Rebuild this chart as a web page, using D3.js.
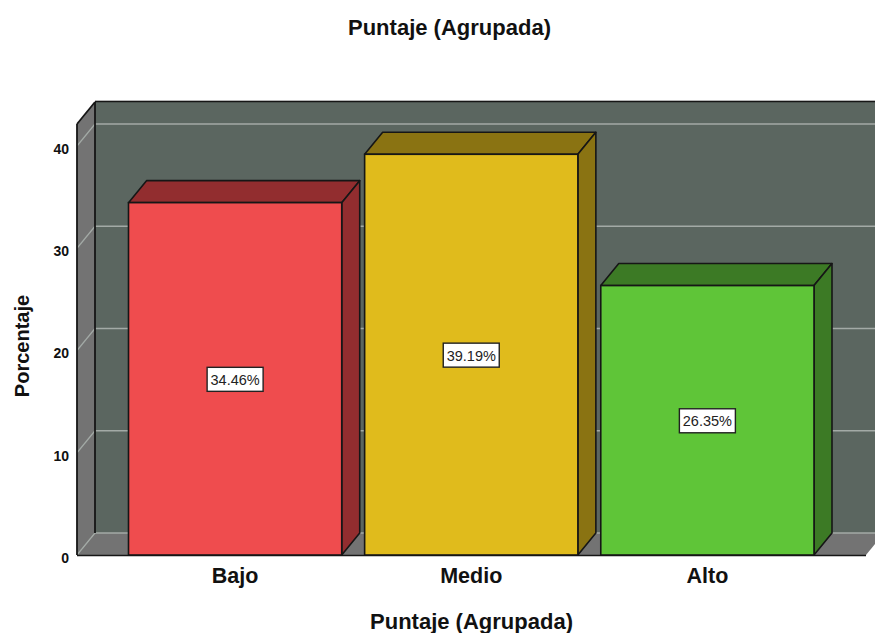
<!DOCTYPE html>
<html>
<head>
<meta charset="utf-8">
<script src="https://cdn.jsdelivr.net/npm/d3@7"></script>
<style>
html, body { margin: 0; padding: 0; background: #fff; overflow: hidden; }
text { font-family: "Liberation Sans", Arial, sans-serif; }
</style>
</head>
<body>
<div id="chart"></div>
<script>
var categories = ["Bajo", "Medio", "Alto"];
var values = [34.46, 39.19, 26.35];
var valueLabels = ["34.46%", "39.19%", "26.35%"];
var tickValues = [0, 10, 20, 30, 40];
var barColors = ["#ef4c4e", "#e0bb1c", "#5fc538"];
var topColors = ["#922d2f", "#8a7312", "#3c7a25"];
var sideColors = ["#922d2f", "#8a7312", "#3c7a25"];
var titleText = "Puntaje (Agrupada)";
var yTitleText = "Porcentaje";

var w = 875, h = 633;
var dx = 18, dy = -22;      // depth of the fake 3d box
var leftX = 77, rightX = 866, bottomY = 555, topY = 124;
var wallColor = "#5b6660", sideWall = "#737373", gridColor = "#a3aaa6", edge = "#161616";

var svg = d3.select("#chart").append("svg").attr("width", w).attr("height", h);

var y = d3.scaleLinear().domain([0, 40]).range([bottomY, 146]);
var x = d3.scaleBand().domain(categories).range([128.5, 814]).paddingInner(0.097);

function poly(pts, fill, stroke, sw) {
    return svg.append("polygon")
        .attr("points", pts.map(function (p) { return p.join(","); }).join(" "))
        .attr("fill", fill)
        .attr("stroke", stroke || "none")
        .attr("stroke-width", sw || 0)
        .attr("stroke-linejoin", "round");
}

// back wall
svg.append("rect").attr("x", leftX + dx).attr("y", topY + dy)
    .attr("width", w - leftX - dx + 5).attr("height", bottomY - topY)
    .attr("fill", wallColor);
svg.append("line").attr("x1", leftX + dx).attr("x2", w).attr("y1", topY + dy - 0.5).attr("y2", topY + dy - 0.5)
    .attr("stroke", edge).attr("stroke-width", 1.5);
svg.append("line").attr("x1", leftX + dx).attr("x2", w).attr("y1", topY + dy - 1.5).attr("y2", topY + dy - 1.5)
    .attr("stroke", "#b5b5b5").attr("stroke-width", 1);

// left wall
poly([[leftX, topY], [leftX + dx, topY + dy], [leftX + dx, bottomY + dy], [leftX, bottomY]], sideWall);

// floor
poly([[leftX, bottomY], [leftX + dx, bottomY + dy], [rightX + dx, bottomY + dy], [rightX, bottomY]], sideWall);

// gridlines on both walls
svg.selectAll(".grid").data(tickValues).enter().append("line")
    .attr("class", "grid")
    .attr("x1", leftX + dx).attr("x2", w)
    .attr("y1", function (d) { return y(d) + dy; })
    .attr("y2", function (d) { return y(d) + dy; })
    .attr("stroke", gridColor).attr("stroke-width", 1.4);
svg.selectAll(".gridSide").data(tickValues).enter().append("line")
    .attr("class", "gridSide")
    .attr("x1", leftX).attr("x2", leftX + dx)
    .attr("y1", function (d) { return y(d); })
    .attr("y2", function (d) { return y(d) + dy; })
    .attr("stroke", gridColor).attr("stroke-width", 1.2);

// box edges
svg.append("line").attr("x1", leftX + dx).attr("x2", leftX + dx).attr("y1", topY + dy).attr("y2", bottomY + dy)
    .attr("stroke", edge).attr("stroke-width", 1.8);
svg.append("line").attr("x1", leftX).attr("x2", leftX).attr("y1", topY).attr("y2", bottomY)
    .attr("stroke", edge).attr("stroke-width", 1.8);
svg.append("line").attr("x1", leftX).attr("x2", leftX + dx).attr("y1", topY).attr("y2", topY + dy)
    .attr("stroke", edge).attr("stroke-width", 1.8);
svg.append("line").attr("x1", leftX).attr("x2", rightX).attr("y1", bottomY + 0.5).attr("y2", bottomY + 0.5)
    .attr("stroke", edge).attr("stroke-width", 1.6);

// bars
categories.forEach(function (c, i) {
    var x0 = x(c), x1 = x(c) + x.bandwidth(), y0 = y(values[i]);
    poly([[x0, y0], [x0 + dx, y0 + dy], [x1 + dx, y0 + dy], [x1, y0]], topColors[i], edge, 1.6);
    poly([[x1, y0], [x1 + dx, y0 + dy], [x1 + dx, bottomY + dy], [x1, bottomY]], sideColors[i], edge, 1.6);
    svg.append("rect").attr("x", x0).attr("y", y0)
        .attr("width", x.bandwidth()).attr("height", bottomY - y0)
        .attr("fill", barColors[i]).attr("stroke", edge).attr("stroke-width", 1.6);

    var cx = x0 + x.bandwidth() / 2, cy = (y0 + bottomY) / 2;
    svg.append("rect").attr("x", cx - 28).attr("y", cy - 11.5).attr("width", 56).attr("height", 24)
        .attr("fill", "#fff").attr("stroke", "#222").attr("stroke-width", 1.4);
    svg.append("text").attr("x", cx).attr("y", cy + 6)
        .attr("text-anchor", "middle").attr("font-size", 14.5).attr("fill", "#222")
        .text(valueLabels[i]);
});

// y axis labels
var yAxis = d3.axisLeft(y).tickValues(tickValues).tickSize(0).tickPadding(8);
var gy = svg.append("g").attr("transform", "translate(" + leftX + ",3)").call(yAxis);
gy.select(".domain").remove();
gy.selectAll("text").attr("font-family", "Liberation Sans").attr("font-size", 14)
    .attr("font-weight", "bold").attr("fill", "#111");

// x axis labels
var xAxis = d3.axisBottom(x).tickSize(0).tickPadding(13);
var gx = svg.append("g").attr("transform", "translate(0," + bottomY + ")").call(xAxis);
gx.select(".domain").remove();
gx.selectAll("text").attr("font-family", "Liberation Sans").attr("font-size", 21.5)
    .attr("font-weight", "bold").attr("fill", "#111");

// titles
svg.append("text").attr("x", 449.5).attr("y", 35).attr("text-anchor", "middle")
    .attr("font-size", 21.5).attr("font-weight", "bold").attr("fill", "#111")
    .attr("textLength", 203).attr("lengthAdjust", "spacingAndGlyphs").text(titleText);
svg.append("text").attr("x", 471.5).attr("y", 629).attr("text-anchor", "middle")
    .attr("font-size", 21.5).attr("font-weight", "bold").attr("fill", "#111")
    .attr("textLength", 203).attr("lengthAdjust", "spacingAndGlyphs").text(titleText);
svg.append("text").attr("transform", "translate(29,346) rotate(-90)").attr("text-anchor", "middle")
    .attr("font-size", 20).attr("font-weight", "bold").attr("fill", "#111").text(yTitleText);
</script>
</body>
</html>
